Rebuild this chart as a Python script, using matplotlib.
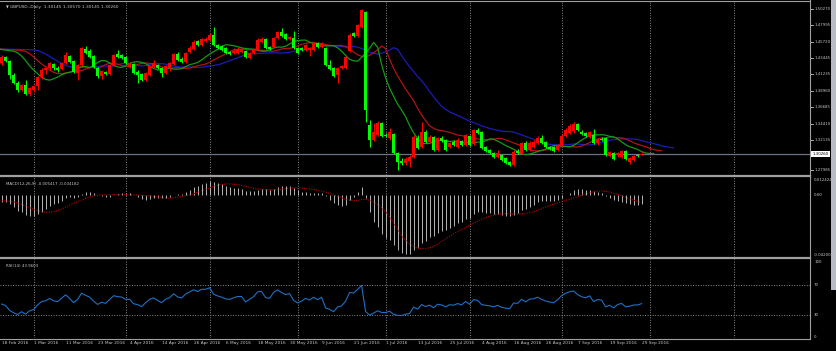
import numpy as np
import pandas as pd
import matplotlib
matplotlib.use('Agg')
import matplotlib.pyplot as plt
from matplotlib.patches import Rectangle

# GBPUSD daily, 18 Feb 2016 .. 29 Sep 2016 (one bar per weekday)
title_text = "GBPUSD.,Daily  1.30145 1.30570 1.30145 1.30260"
macd_text = "MACD(12,26,9) -0.005417 -0.004182"
rsi_text = "RSI(14) 43.9603"
dates = pd.bdate_range('2016-02-18', '2016-09-29')

opens = [1.4282, 1.4364, 1.4309, 1.4116, 1.4006, 1.3909, 1.3978, 1.3854, 1.3909, 1.3964,
         1.4088, 1.4185, 1.4213, 1.4268, 1.4213, 1.4199, 1.4282, 1.4378, 1.4309, 1.4144,
         1.4254, 1.4475, 1.4447, 1.4378, 1.4213, 1.4102, 1.4157, 1.4130, 1.4254, 1.4406,
         1.4392, 1.4364, 1.4226, 1.4268, 1.4157, 1.4130, 1.4047, 1.4116, 1.4226, 1.4254,
         1.4213, 1.4144, 1.4213, 1.4268, 1.4406, 1.4337, 1.4295, 1.4433, 1.4475, 1.4585,
         1.4530, 1.4585, 1.4599, 1.4668, 1.4530, 1.4516, 1.4489, 1.4433, 1.4420, 1.4420,
         1.4433, 1.4447, 1.4351, 1.4420, 1.4461, 1.4571, 1.4613, 1.4502, 1.4502, 1.4627,
         1.4709, 1.4682, 1.4613, 1.4627, 1.4489, 1.4489, 1.4461, 1.4461, 1.4461, 1.4558,
         1.4502, 1.4489, 1.4254, 1.4213, 1.4116, 1.4213, 1.4213, 1.4447, 1.4696, 1.4654,
         1.4778, 1.4985, 1.3426, 1.3219, 1.3288, 1.3454, 1.3288, 1.3247, 1.3302, 1.3040,
         1.2929, 1.2902, 1.2929, 1.2985, 1.3247, 1.3122, 1.3329, 1.3191, 1.3260, 1.3081,
         1.3247, 1.3219, 1.3122, 1.3191, 1.3122, 1.3205, 1.3150, 1.3274, 1.3164, 1.3357,
         1.3329, 1.3122, 1.3081, 1.3040, 1.2985, 1.3012, 1.2971, 1.2915, 1.2874, 1.3067,
         1.3040, 1.3178, 1.3081, 1.3122, 1.3178, 1.3247, 1.3191, 1.3122, 1.3122, 1.3081,
         1.3150, 1.3274, 1.3316, 1.3343, 1.3440, 1.3329, 1.3316, 1.3260, 1.3288, 1.3178,
         1.3233, 1.3247, 1.2998, 1.3040, 1.3012, 1.2985, 1.3067, 1.2915, 1.2943, 1.3012,
         1.30145]
highs = [1.4392, 1.4378, 1.4323, 1.4144, 1.4033, 1.3992, 1.4047, 1.3950, 1.3978, 1.4102,
         1.4213, 1.4240, 1.4295, 1.4282, 1.4240, 1.4295, 1.4433, 1.4392, 1.4323, 1.4268,
         1.4502, 1.4516, 1.4475, 1.4392, 1.4226, 1.4185, 1.4171, 1.4268, 1.4406, 1.4461,
         1.4406, 1.4378, 1.4295, 1.4282, 1.4185, 1.4144, 1.4157, 1.4254, 1.4323, 1.4268,
         1.4226, 1.4254, 1.4295, 1.4420, 1.4433, 1.4364, 1.4433, 1.4516, 1.4599, 1.4599,
         1.4627, 1.4640, 1.4696, 1.4778, 1.4544, 1.4530, 1.4502, 1.4447, 1.4489, 1.4502,
         1.4489, 1.4461, 1.4433, 1.4489, 1.4627, 1.4640, 1.4627, 1.4516, 1.4640, 1.4723,
         1.4765, 1.4696, 1.4654, 1.4723, 1.4502, 1.4502, 1.4544, 1.4502, 1.4571, 1.4571,
         1.4571, 1.4502, 1.4323, 1.4226, 1.4226, 1.4254, 1.4378, 1.4696, 1.4709, 1.4820,
         1.5027, 1.4999, 1.3495, 1.3454, 1.3481, 1.3467, 1.3316, 1.3385, 1.3316, 1.3053,
         1.2971, 1.2985, 1.3012, 1.3288, 1.3288, 1.3467, 1.3357, 1.3288, 1.3274, 1.3260,
         1.3274, 1.3233, 1.3191, 1.3219, 1.3247, 1.3219, 1.3302, 1.3288, 1.3371, 1.3385,
         1.3343, 1.3136, 1.3095, 1.3053, 1.3081, 1.3026, 1.2985, 1.2929, 1.3081, 1.3095,
         1.3191, 1.3205, 1.3205, 1.3219, 1.3274, 1.3288, 1.3205, 1.3136, 1.3136, 1.3164,
         1.3302, 1.3385, 1.3440, 1.3467, 1.3454, 1.3357, 1.3329, 1.3343, 1.3371, 1.3247,
         1.3260, 1.3260, 1.3067, 1.3053, 1.3053, 1.3081, 1.3081, 1.2985, 1.3012, 1.3026,
         1.30570]
lows = [1.4254, 1.4295, 1.4061, 1.3992, 1.3881, 1.3895, 1.3840, 1.3826, 1.3881, 1.3909,
        1.4061, 1.4130, 1.4185, 1.4185, 1.4157, 1.4185, 1.4268, 1.4282, 1.4144, 1.4047,
        1.4240, 1.4406, 1.4351, 1.4213, 1.4075, 1.4061, 1.4116, 1.4116, 1.4240, 1.4351,
        1.4337, 1.4268, 1.4213, 1.4130, 1.4006, 1.4033, 1.4033, 1.4102, 1.4213, 1.4199,
        1.4088, 1.4130, 1.4171, 1.4254, 1.4309, 1.4282, 1.4282, 1.4420, 1.4461, 1.4516,
        1.4516, 1.4571, 1.4585, 1.4516, 1.4475, 1.4447, 1.4406, 1.4392, 1.4406, 1.4406,
        1.4420, 1.4351, 1.4337, 1.4406, 1.4447, 1.4558, 1.4475, 1.4461, 1.4489, 1.4613,
        1.4640, 1.4599, 1.4599, 1.4475, 1.4406, 1.4447, 1.4447, 1.4378, 1.4447, 1.4489,
        1.4489, 1.4240, 1.4185, 1.4088, 1.4006, 1.4199, 1.4199, 1.4433, 1.4640, 1.4640,
        1.4765, 1.3467, 1.3122, 1.3205, 1.3274, 1.3260, 1.3260, 1.3219, 1.3026, 1.2805,
        1.2874, 1.2874, 1.2847, 1.2971, 1.3095, 1.3109, 1.3178, 1.3178, 1.3067, 1.3067,
        1.3191, 1.3067, 1.3109, 1.3136, 1.3109, 1.3136, 1.3136, 1.3136, 1.3150, 1.3302,
        1.3095, 1.3053, 1.3026, 1.2971, 1.2971, 1.2929, 1.2888, 1.2860, 1.2860, 1.3026,
        1.3026, 1.3067, 1.3067, 1.3109, 1.3164, 1.3164, 1.3109, 1.3081, 1.3053, 1.3067,
        1.3136, 1.3260, 1.3302, 1.3316, 1.3343, 1.3288, 1.3260, 1.3247, 1.3164, 1.3150,
        1.3205, 1.2998, 1.2985, 1.2943, 1.2985, 1.2971, 1.2943, 1.2888, 1.2929, 1.2985,
        1.30145]
closes = [1.4364, 1.4309, 1.4116, 1.4006, 1.3909, 1.3978, 1.3854, 1.3937, 1.3964, 1.4088,
          1.4185, 1.4213, 1.4282, 1.4213, 1.4185, 1.4282, 1.4392, 1.4295, 1.4157, 1.4254,
          1.4489, 1.4420, 1.4364, 1.4226, 1.4102, 1.4171, 1.4130, 1.4254, 1.4392, 1.4364,
          1.4351, 1.4282, 1.4282, 1.4144, 1.4116, 1.4047, 1.4144, 1.4240, 1.4282, 1.4213,
          1.4144, 1.4240, 1.4282, 1.4406, 1.4323, 1.4295, 1.4420, 1.4489, 1.4571, 1.4530,
          1.4613, 1.4613, 1.4668, 1.4530, 1.4489, 1.4461, 1.4420, 1.4406, 1.4447, 1.4475,
          1.4475, 1.4364, 1.4420, 1.4475, 1.4599, 1.4613, 1.4489, 1.4475, 1.4627, 1.4709,
          1.4654, 1.4613, 1.4640, 1.4489, 1.4420, 1.4461, 1.4530, 1.4489, 1.4558, 1.4502,
          1.4558, 1.4254, 1.4199, 1.4102, 1.4213, 1.4240, 1.4364, 1.4668, 1.4654, 1.4806,
          1.5013, 1.3633, 1.3219, 1.3329, 1.3454, 1.3274, 1.3274, 1.3329, 1.3040, 1.2915,
          1.2902, 1.2957, 1.2985, 1.3260, 1.3109, 1.3329, 1.3191, 1.3260, 1.3081, 1.3247,
          1.3205, 1.3081, 1.3178, 1.3150, 1.3219, 1.3150, 1.3288, 1.3150, 1.3357, 1.3316,
          1.3109, 1.3067, 1.3040, 1.2985, 1.3040, 1.2943, 1.2902, 1.2874, 1.3053, 1.3040,
          1.3178, 1.3081, 1.3178, 1.3191, 1.3247, 1.3178, 1.3122, 1.3095, 1.3067, 1.3150,
          1.3274, 1.3357, 1.3412, 1.3440, 1.3357, 1.3302, 1.3274, 1.3329, 1.3178, 1.3233,
          1.3219, 1.3012, 1.3053, 1.2957, 1.3040, 1.3067, 1.2957, 1.2971, 1.2998, 1.2998,
          1.30260]

price_ticks = [1.50270, 1.47995, 1.45720, 1.43445, 1.41235, 1.38960, 1.36685,
               1.34410, 1.32135, 1.27985]
last_price = 1.30260
price_range = (1.2736, 1.5137)
macd_range = (-0.042003, 0.012424)
rsi_levels = [70, 30]
rsi_ticks = [100, 70, 30, 0]

# indicator levels at the left edge
alligator_start = 1.4475
macd_start = -0.0043
signal_start = -0.0037
rsi_start = 44.0

W, H = 836, 351
BG = 'black'
FG = '#c8c8c8'
GRID = '#8a8a8a'
BULL = '#ff0000'
BEAR = '#00ff00'


def box(x0, y0, x1, y1):
    return [x0 / W, 1 - y1 / H, (x1 - x0) / W, (y1 - y0) / H]


def smma(values, n, start):
    out, prev = [], start
    for v in values:
        prev = (prev * (n - 1) + v) / n
        out.append(prev)
    return np.array(out)


o = np.array(opens); h = np.array(highs); l = np.array(lows); c = np.array(closes)
n_bars = len(c)
idx = np.arange(n_bars)
median = (h + l) / 2

# Alligator: jaw 13/8, teeth 8/5, lips 5/3
gator = [(13, 8, '#1c1cb8'), (8, 5, '#b01414'), (5, 3, '#129a12')]

# MACD 12,26,9
e12, e26 = c[0], c[0] - macd_start
macd = []
for v in c:
    e12 += 2 / 13 * (v - e12)
    e26 += 2 / 27 * (v - e26)
    macd.append(e12 - e26)
macd = np.array(macd) - (macd[0] - macd_start)
padded = np.concatenate([np.full(8, signal_start), macd])
signal = np.convolve(padded, np.ones(9) / 9, mode='valid')

# RSI 14 (Wilder)
avg_move = np.mean(np.abs(np.diff(c[:15])))
pos, neg = rsi_start / 100 * avg_move, (1 - rsi_start / 100) * avg_move
rsi = [rsi_start]
for d in np.diff(c):
    pos = (pos * 13 + max(d, 0)) / 14
    neg = (neg * 13 + max(-d, 0)) / 14
    rsi.append(100 * pos / (pos + neg))
rsi = np.array(rsi)

fig = plt.figure(figsize=(W / 100, H / 100), dpi=100)
fig.patch.set_facecolor(BG)

ax_p = fig.add_axes(box(0, 1, 810, 175))
ax_m = fig.add_axes(box(0, 177, 810, 257))
ax_r = fig.add_axes(box(0, 259, 810, 338))
xlim = (-0.4, 202.1)

# month grid, including the empty space right of the last bar
future = pd.bdate_range(dates[0], '2016-11-30')
month_pos = [i for i in range(1, len(future)) if future[i].month != future[i - 1].month]
month_pos = [m for m in month_pos if m < xlim[1]]

for ax in (ax_p, ax_m, ax_r):
    ax.set_facecolor(BG)
    ax.set_xlim(*xlim)
    ax.set_xticks([]); ax.set_yticks([])
    for s in ax.spines.values():
        s.set_visible(False)
    for m in month_pos:
        ax.axvline(m, color=GRID, lw=0.7, ls=(0, (1, 1.6)), zorder=0)

# --- price panel
ax_p.set_ylim(*price_range)
ax_p.axhline(last_price, color='#6c7384', lw=0.9, zorder=1)
for (n, sh, col) in gator:
    line = smma(median, n, alligator_start)
    ax_p.plot(np.concatenate([[-1], idx + sh]), np.concatenate([[alligator_start], line]),
              color=col, lw=0.9, zorder=2)
for i in idx:
    col = BULL if c[i] >= o[i] else BEAR
    ax_p.vlines(i, l[i], h[i], color=col, lw=0.8, zorder=3)
    lo, hi = min(o[i], c[i]), max(o[i], c[i])
    ax_p.add_patch(Rectangle((i - 0.36, lo), 0.72, max(hi - lo, 0.0003),
                             facecolor=col, edgecolor='none', zorder=4))
ax_p.text(0.008, 0.975, '\u25bc', transform=ax_p.transAxes, color=FG, fontsize=2.6,
          va='top', ha='left')
ax_p.text(0.012, 0.978, title_text, transform=ax_p.transAxes, color=FG, fontsize=3.1,
          va='top', ha='left')

ty = ax_p.get_yaxis_transform()
for v in price_ticks:
    ax_p.plot([1.0, 1.004], [v, v], color=FG, lw=0.6, transform=ty, clip_on=False)
    ax_p.text(1.005, v, f'{v:.5f}', transform=ty, color=FG, fontsize=2.8,
              va='center', ha='left')
ax_p.text(1.003, last_price, f'{last_price:.5f}', transform=ty, color='black',
          fontsize=2.8, va='center', ha='left',
          bbox=dict(boxstyle='square,pad=0.25', fc='white', ec='none'))

# --- MACD panel
ax_m.set_ylim(*macd_range)
ax_m.vlines(idx, 0, macd, color='#b4b4b4', lw=0.7)
ax_m.plot(idx, signal, color='#c00000', lw=0.8, ls=(0, (1, 1.2)))
ax_m.text(0.008, 0.94, macd_text, transform=ax_m.transAxes, color=FG, fontsize=2.9,
          va='top', ha='left')
tm = ax_m.get_yaxis_transform()
ax_m.text(1.005, 0.96, f'{macd_range[1]:.6f}', transform=ax_m.transAxes, color=FG,
          fontsize=2.8, va='center', ha='left')
ax_m.text(1.005, 0.0, '0.00', transform=tm, color=FG, fontsize=2.8, va='center', ha='left')
ax_m.text(1.005, 0.03, f'{macd_range[0]:.6f}', transform=ax_m.transAxes, color=FG,
          fontsize=2.8, va='center', ha='left')

# --- RSI panel
ax_r.set_ylim(-1.3, 104)
for lv in rsi_levels:
    ax_r.axhline(lv, color=GRID, lw=0.7, ls=(0, (1, 1.6)), zorder=0)
ax_r.plot(idx, rsi, color='#1e70c4', lw=0.8)
ax_r.text(0.008, 0.94, rsi_text, transform=ax_r.transAxes, color=FG, fontsize=2.9,
          va='top', ha='left')
tr = ax_r.get_yaxis_transform()
for v in rsi_ticks:
    ax_r.text(1.005, v, str(v), transform=tr, color=FG, fontsize=2.8, va='center', ha='left')

# --- date labels
for i in range(0, n_bars, 8):
    x = (i - xlim[0]) / (xlim[1] - xlim[0]) * 810 / W
    fig.text(x, 1 - 343 / H, dates[i].strftime('%-d %b %Y'), color=FG, fontsize=3.1,
             va='center', ha='left')

# panel frames / separators
for y, lw in [(0.5, 0.8), (176, 1.6), (258, 1.6), (338.5, 0.8)]:
    fig.add_artist(plt.Line2D([0, 810 / W], [1 - y / H] * 2, color='#a0a0a0', lw=lw))
fig.add_artist(plt.Line2D([810 / W] * 2, [1 - 339 / H, 1], color='#a0a0a0', lw=0.8))
# window border strip on the far right
fig.add_artist(Rectangle((831 / W, 1 - 290 / H), 5 / W, 290 / H, transform=fig.transFigure,
                         facecolor='#b8bcc4', edgecolor='none'))

fig.savefig('out.png', dpi=100, facecolor=BG)
